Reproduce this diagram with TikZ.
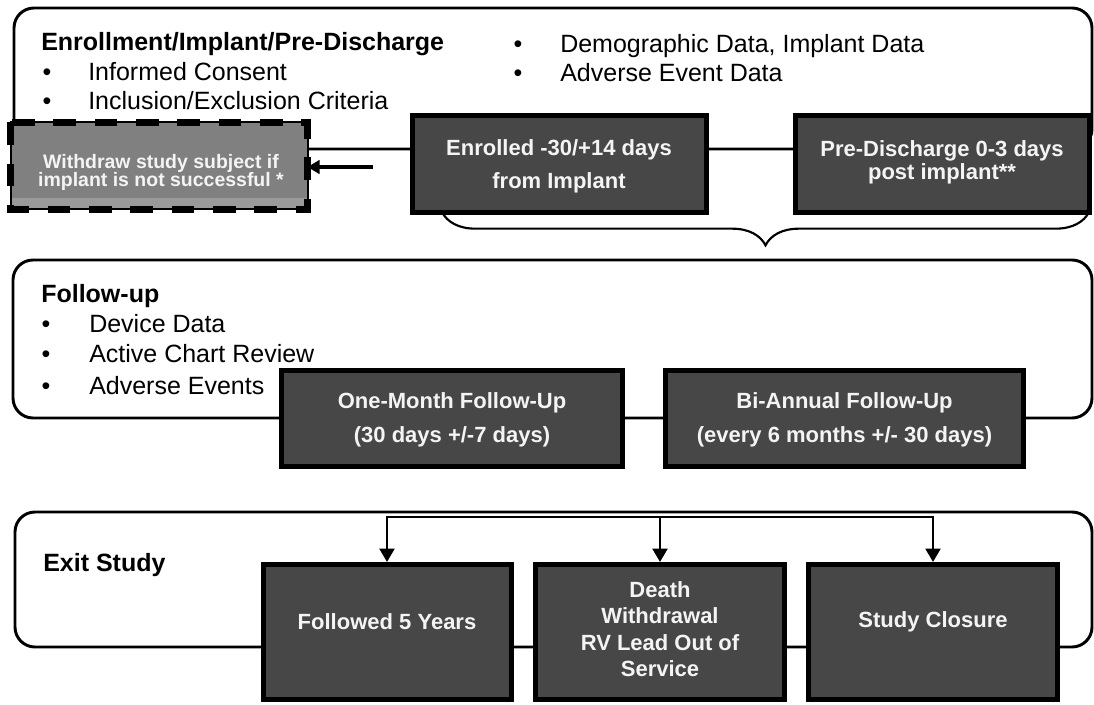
\documentclass[tikz,border=0pt]{standalone}
\usepackage{fontspec}
\setmainfont{Liberation Sans}
\usetikzlibrary{arrows.meta,decorations.pathreplacing,fit}
\definecolor{boxgray}{HTML}{474747}
\definecolor{wdgray}{HTML}{808080}
\definecolor{wdlight}{HTML}{9A9A9A}
\definecolor{boxtxt}{HTML}{F4F4F4}
\begin{document}
\begin{tikzpicture}[x=0.75pt,y=-0.75pt,
  panel/.style={draw=black,line width=2.2pt,rounded corners=15pt,fill=white,inner sep=0pt,outer sep=0pt},
  dbox/.style={draw=black,line width=3.75pt,fill=boxgray,inner sep=0pt},
  btext/.style={text=boxtxt,inner sep=0pt,align=center,font=\fontsize{16.5}{24.75}\selectfont\bfseries},
  head/.style={font=\fontsize{18.75}{22}\selectfont\bfseries,inner sep=0pt,anchor=base west},
  itxt/.style={font=\fontsize{18.75}{22}\selectfont,inner sep=0pt,anchor=base west},
  bul/.style={font=\fontsize{18.75}{22}\selectfont,inner sep=0pt,anchor=base},
  conn/.style={line width=2.2pt},
  arr/.style={line width=2.2pt,-{Triangle[width=11pt,length=10pt]}},
]
\useasboundingbox (0,0) rectangle (1094,705);
% panels
\node[panel,fit={(14,8) (1092,149)}] (p1) {};
\node[panel,fit={(13,260) (1092,418)}] (p2) {};
\node[panel,fit={(15,512) (1092,647)}] (p3) {};

% top panel texts
\node[head] (h1) at (41,51) {Enrollment/Implant/Pre-Discharge};
\node[bul] (b11) at (47,81) {•};
\node[itxt] (t11) at (88,81) {Informed Consent};
\node[bul] (b12) at (47,110) {•};
\node[itxt] (t12) at (88,110) {Inclusion/Exclusion Criteria};
\node[bul] (b13) at (518,53) {•};
\node[itxt] (t13) at (560,53) {Demographic Data, Implant Data};
\node[bul] (b14) at (518,82) {•};
\node[itxt] (t14) at (560,82) {Adverse Event Data};

% brace
\draw[line width=1.6pt,decorate,decoration={brace,mirror,amplitude=25pt}] (442,212) -- (1089,212);

% withdraw box
\node[fill=wdgray,inner sep=0pt,outer sep=0pt,minimum width=222.75pt,minimum height=65.25pt] (wd) at (159,166) {};
\fill[wdlight] ([yshift=8.25pt]wd.south west) rectangle (wd.south east);
\draw[line width=1.5pt] (wd.north west) rectangle (wd.south east);
\draw[line width=5.5pt,dash pattern=on 17pt off 14pt] (wd.north west) rectangle (wd.south east);
\node[text=boxtxt,inner sep=0pt,align=center,font=\fontsize{14.6}{13.9}\selectfont\bfseries] (wdt) at (161,172.5) {Withdraw study subject if\\implant is not successful *};

% enrolled / pre-discharge
\node[dbox,minimum width=220.5pt,minimum height=72.75pt] (en) at (559,164) {};
\node[btext] (ent) at (559,166.5) {Enrolled -30/+14 days\\from Implant};
\node[dbox,minimum width=220.5pt,minimum height=72.75pt] (pd) at (942,164) {};
\node[btext,font=\fontsize{16.5}{17.25}\selectfont\bfseries] (pdt) at (942,162) {Pre-Discharge 0-3 days\\post implant**};
\coordinate (wa) at (373,167);
\draw[line width=3pt,-{Triangle[width=10pt,length=9pt]}] (wa) -- (wa -| wd.east);

% follow-up panel texts
\node[head] (h2) at (41,303) {Follow-up};
\node[bul] (b21) at (46,333) {•};
\node[itxt] (t21) at (89,333) {Device Data};
\node[bul] (b22) at (46,363) {•};
\node[itxt] (t22) at (89,363) {Active Chart Review};
\node[bul] (b23) at (46,394) {•};
\node[itxt] (t23) at (89,394) {Adverse Events};

\node[dbox,minimum width=255.75pt,minimum height=72pt] (om) at (452,418.5) {};
\node[btext,font=\fontsize{16.5}{25.5}\selectfont\bfseries] (omt) at (452,420) {One-Month Follow-Up\\(30 days +/-7 days)};
\node[dbox,minimum width=268.5pt,minimum height=72pt] (ba) at (844.5,418.5) {};
\node[btext,font=\fontsize{16.5}{25.5}\selectfont\bfseries] (bat) at (844.5,420) {Bi-Annual Follow-Up\\(every 6 months +/- 30 days)};

% exit panel
\node[head] (h3) at (43,571) {Exit Study};
\node[dbox,minimum width=186pt,minimum height=101.6pt] (f5) at (387,632.25) {};
\node[dbox,minimum width=187pt,minimum height=101.6pt] (dt) at (660,632.25) {};
\node[dbox,minimum width=186.75pt,minimum height=101.6pt] (sc) at (933,632.25) {};
\node[btext] (f5t) at (387,622) {Followed 5 Years};
\node[btext,font=\fontsize{16.5}{19.7}\selectfont\bfseries] (dtt) at (660,629) {Death\\Withdrawal\\RV Lead Out of\\Service};
\node[btext] (sct) at (933,622) {Study Closure};

\coordinate (bus) at (0,517);
\draw[arr] (dt.north |- bus) -| (f5.north);
\draw[arr] (dt.north |- bus) -| (sc.north);
\draw[arr] (dt.north |- bus) -- (dt.north);
\end{tikzpicture}
\end{document}
